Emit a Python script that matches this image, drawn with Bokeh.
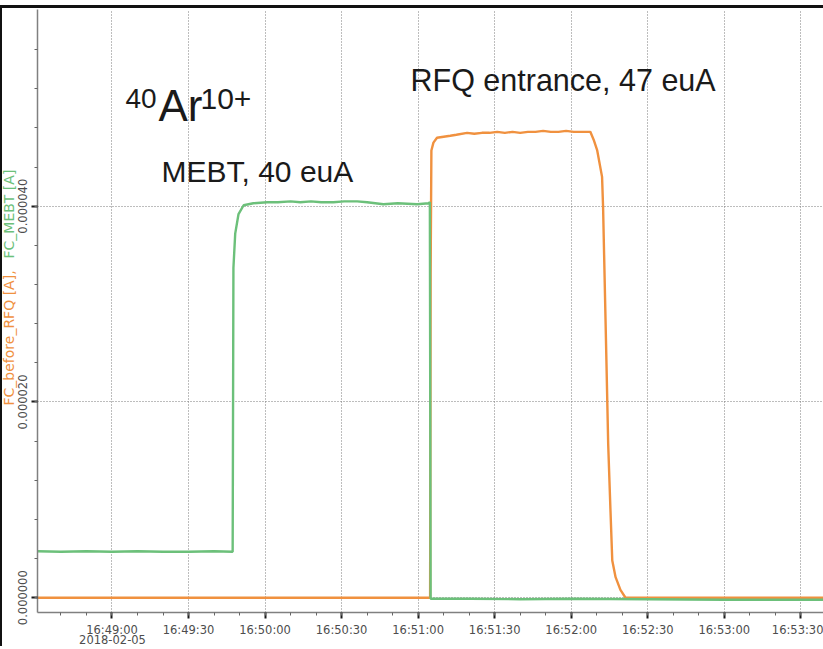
import numpy as np
import pandas as pd
from math import pi
from bokeh.plotting import figure
from bokeh.models import (ColumnDataSource, FixedTicker, PrintfTickFormatter,
                          Label, Range1d)
from bokeh.embed import file_html
from bokeh.resources import INLINE

DATE = "2018-02-05"

# FC_MEBT [A] (green), values in micro-ampere
mebt_time = ["16:48:30.8", "16:48:40", "16:48:50", "16:49:00", "16:49:10", "16:49:20",
             "16:49:30", "16:49:40", "16:49:47.3", "16:49:47.6", "16:49:48.3", "16:49:49.6",
             "16:49:51.6", "16:49:55.4", "16:50:00.8", "16:50:05", "16:50:10", "16:50:13.8",
             "16:50:18", "16:50:22", "16:50:26.8", "16:50:31", "16:50:36.1", "16:50:40",
             "16:50:46.4", "16:50:52", "16:50:59.6", "16:51:04.1", "16:51:04.6", "16:51:04.9",
             "16:51:20", "16:51:40", "16:52:00", "16:52:30", "16:53:00", "16:53:40"]
mebt_uA = [4.75, 4.7, 4.75, 4.7, 4.75, 4.7,
           4.7, 4.75, 4.7, 33.7, 37.2, 39.2,
           40.1, 40.3, 40.4, 40.4, 40.5, 40.4,
           40.5, 40.4, 40.4, 40.5, 40.5, 40.4,
           40.2, 40.3, 40.2, 40.3, 40.4, -0.1,
           -0.1, -0.15, -0.1, -0.15, -0.2, -0.2]

# FC_before_RFQ [A] (orange), values in micro-ampere
rfq_time = ["16:48:30.8", "16:51:04.7", "16:51:04.9", "16:51:05.2", "16:51:06.0", "16:51:07.4",
            "16:51:10", "16:51:12.6", "16:51:15", "16:51:19.2", "16:51:22", "16:51:25",
            "16:51:28", "16:51:31", "16:51:34", "16:51:37", "16:51:40", "16:51:43",
            "16:51:46", "16:51:49", "16:51:52", "16:51:55", "16:51:58", "16:52:01",
            "16:52:04", "16:52:07.5", "16:52:08.8", "16:52:10.2", "16:52:12.1", "16:52:12.5",
            "16:52:13.1", "16:52:13.8", "16:52:14.5", "16:52:15.4", "16:52:16.1", "16:52:17.4",
            "16:52:19.3", "16:52:21.3", "16:53:40"]
rfq_uA = [0.0, 0.0, 33.0, 45.7, 46.5, 47.0,
          47.1, 47.2, 47.3, 47.5, 47.4, 47.5,
          47.5, 47.6, 47.5, 47.6, 47.5, 47.6,
          47.6, 47.7, 47.6, 47.6, 47.7, 47.6,
          47.6, 47.6, 46.8, 45.7, 43.0, 39.9,
          32.7, 24.3, 15.7, 8.9, 3.8, 2.1,
          0.8, 0.0, 0.0]

x_tick_times = ["16:49:00", "16:49:30", "16:50:00", "16:50:30", "16:51:00",
                "16:51:30", "16:52:00", "16:52:30", "16:53:00", "16:53:30"]
x_tick_labels = ["16:49:00", "16:49:30", "16:50:00", "16:50:30", "16:51:00",
                 "16:51:30", "16:52:00", "16:52:30", "16:53:00", "16:53:30"]
y_tick_uA = [0, 20, 40]
x_view = ["16:48:30.8", "16:53:38.9"]
y_view_uA = [-1.51, 60.1]


def to_dt(ts):
    return pd.to_datetime([f"{DATE}T{t}" for t in ts], format="ISO8601")


def to_ms(ts):
    return [int(v.value // 10**6) for v in to_dt(ts)]


src_mebt = ColumnDataSource(dict(t=to_dt(mebt_time), i=np.array(mebt_uA) * 1e-6))
src_rfq = ColumnDataSource(dict(t=to_dt(rfq_time), i=np.array(rfq_uA) * 1e-6))

SHIFT = 17  # canvas starts left of the page so the side panels end at x=37
xr = to_dt(x_view)
p = figure(width=823 + SHIFT, height=641, x_axis_type="datetime", output_backend="svg",
           toolbar_location=None,
           x_range=Range1d(xr[0], xr[1]),
           y_range=Range1d(y_view_uA[0] * 1e-6, y_view_uA[1] * 1e-6),
           min_border_left=0, min_border_right=0, min_border_top=1, min_border_bottom=37)
p.styles = {"margin-top": "5px", "margin-left": f"-{SHIFT}px",
            "border-top": "3px solid #111111",
            "box-shadow": f"inset {SHIFT + 2}px 0 0 0 #111111"}
p.outline_line_color = None
p.background_fill_color = "white"
p.border_fill_alpha = 0

major_ms = to_ms(x_tick_times)
minor_ms = list(range(major_ms[0] - 20000, major_ms[-1] + 10001, 10000))
p.xaxis.ticker = FixedTicker(ticks=major_ms, minor_ticks=minor_ms)
p.xaxis.major_label_overrides = {m: lab for m, lab in zip(major_ms, x_tick_labels)}

y_major = [v * 1e-6 for v in y_tick_uA]
y_minor = [k * 4e-6 for k in range(0, 15)]
p.yaxis.ticker = FixedTicker(ticks=y_major, minor_ticks=y_minor)
p.yaxis.formatter = PrintfTickFormatter(format="%.6f")
p.yaxis.major_label_orientation = "vertical"

for ax in (p.xaxis[0], p.yaxis[0]):
    ax.axis_line_color = "#808080"
    ax.axis_line_width = 1.5
    ax.major_tick_line_color = "#1a1a1a"
    ax.major_tick_line_width = 2
    ax.major_tick_out = 6
    ax.major_tick_in = 0
    ax.minor_tick_line_color = "#666666"
    ax.minor_tick_line_width = 1
    ax.minor_tick_out = 3
    ax.minor_tick_in = 0
    ax.major_label_text_font = "DejaVu Sans"
    ax.major_label_text_font_size = "11.5px"
    ax.major_label_text_color = "#4d4d4d"
    ax.major_label_standoff = 4

for g in (p.xgrid[0], p.ygrid[0]):
    g.grid_line_color = "#7a7a7a"
    g.grid_line_dash = "1 2"
    g.grid_line_width = 1

p.line("t", "i", source=src_rfq, line_color="#F0913F", line_width=2.4)
p.line("t", "i", source=src_mebt, line_color="#6CC07A", line_width=2.4)

txt = "#1a1a1a"
font = "Liberation Sans"


def lab(x, y, text, size):
    p.add_layout(Label(x=x, y=y, x_units="screen", y_units="screen", text=text,
                       text_font=font, text_font_size=size, text_color=txt,
                       text_baseline="middle"))


lab(373, 533, "RFQ entrance, 47 euA", "30.5px")
lab(124, 441, "MEBT, 40 euA", "30px")
lab(88, 514, "40", "28px")
lab(121, 507, "Ar", "44px")
lab(163, 514, "10+", "30px")

# two-colour y axis title placed in the left side panels
p.add_layout(Label(x=9, y=207, x_units="screen", y_units="screen", angle=pi / 2,
                   text="FC_before_RFQ [A],", text_font="DejaVu Sans",
                   text_font_size="14px", text_color="#F0913F",
                   text_align="left", text_baseline="middle"), "left")
p.add_layout(Label(x=25, y=354, x_units="screen", y_units="screen", angle=pi / 2,
                   text="FC_MEBT [A]", text_font="DejaVu Sans",
                   text_font_size="14px", text_color="#6CC07A",
                   text_align="left", text_baseline="middle"), "left")

# date under the first time tick
p.add_layout(Label(x=75, y=14, x_units="screen", y_units="screen",
                   text=DATE, text_font="DejaVu Sans", text_font_size="11.5px",
                   text_color="#4d4d4d", text_align="center", text_baseline="top"),
             "below")

open("out.html", "w").write(file_html(p, INLINE))
